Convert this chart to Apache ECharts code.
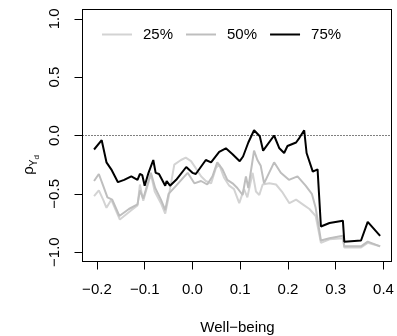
<!DOCTYPE html>
<html><head><meta charset="utf-8">
<script src="https://cdn.jsdelivr.net/npm/echarts@6/dist/echarts.min.js"></script>
<style>html,body{margin:0;padding:0;background:#fff}#c{width:397px;height:336px}</style>
</head><body><div id="c"></div>
<script>
// Series names
const seriesNames = ['25%', '50%', '75%'];
// Tick values
const xTicks = [-0.2, -0.1, 0.0, 0.1, 0.2, 0.3, 0.4];
const yTicks = [-1.0, -0.5, 0.0, 0.5, 1.0];

// 25% quantile
const x25 = [-0.206,-0.196,-0.187,-0.180,-0.170,-0.152,-0.128,-0.115,-0.110,-0.103,-0.087,-0.079,-0.066,-0.057,-0.050,-0.038,-0.024,-0.014,-0.003,0.007,0.018,0.028,0.039,0.049,0.056,0.066,0.077,0.087,0.098,0.108,0.115,0.126,0.133,0.140,0.147,0.161,0.175,0.189,0.203,0.217,0.231,0.245,0.258,0.269,0.287,0.315,0.318,0.353,0.367,0.393];
const y25 = [-0.52,-0.47,-0.55,-0.62,-0.55,-0.72,-0.64,-0.60,-0.42,-0.56,-0.33,-0.48,-0.58,-0.67,-0.53,-0.25,-0.21,-0.19,-0.22,-0.28,-0.35,-0.39,-0.41,-0.28,-0.25,-0.36,-0.43,-0.46,-0.58,-0.46,-0.53,-0.32,-0.48,-0.51,-0.42,-0.41,-0.42,-0.49,-0.58,-0.55,-0.59,-0.63,-0.69,-0.92,-0.89,-0.88,-0.96,-0.96,-0.92,-0.95];

// 50% quantile
const x50 = [-0.206,-0.196,-0.187,-0.178,-0.168,-0.153,-0.133,-0.115,-0.110,-0.103,-0.087,-0.078,-0.066,-0.057,-0.050,-0.034,-0.021,-0.010,0.004,0.018,0.031,0.042,0.052,0.063,0.073,0.084,0.094,0.105,0.112,0.117,0.129,0.136,0.143,0.150,0.171,0.185,0.202,0.220,0.237,0.250,0.258,0.269,0.287,0.315,0.318,0.353,0.367,0.393];
const y50 = [-0.39,-0.33,-0.43,-0.53,-0.55,-0.69,-0.63,-0.59,-0.47,-0.54,-0.32,-0.45,-0.55,-0.64,-0.50,-0.43,-0.37,-0.32,-0.41,-0.39,-0.42,-0.35,-0.23,-0.29,-0.38,-0.41,-0.45,-0.51,-0.35,-0.45,-0.13,-0.21,-0.26,-0.41,-0.23,-0.32,-0.38,-0.35,-0.43,-0.50,-0.62,-0.90,-0.88,-0.86,-0.95,-0.95,-0.91,-0.95];

// 75% quantile
const x75 = [-0.206,-0.190,-0.180,-0.170,-0.156,-0.143,-0.128,-0.115,-0.110,-0.105,-0.100,-0.092,-0.082,-0.077,-0.070,-0.057,-0.054,-0.047,-0.034,-0.013,0.000,0.007,0.028,0.039,0.056,0.070,0.084,0.099,0.106,0.117,0.129,0.141,0.148,0.171,0.182,0.192,0.199,0.217,0.224,0.234,0.239,0.252,0.262,0.269,0.287,0.315,0.318,0.353,0.367,0.393];
const y75 = [-0.12,-0.04,-0.23,-0.29,-0.40,-0.38,-0.35,-0.38,-0.33,-0.34,-0.43,-0.32,-0.21,-0.32,-0.33,-0.43,-0.39,-0.43,-0.38,-0.27,-0.32,-0.33,-0.21,-0.23,-0.14,-0.11,-0.16,-0.22,-0.18,-0.06,0.045,-0.006,-0.13,0.00,-0.11,-0.15,-0.09,-0.06,-0.02,0.045,-0.15,-0.31,-0.29,-0.78,-0.75,-0.73,-0.91,-0.90,-0.74,-0.86];

const FONT = '"Liberation Sans", Arial, sans-serif';
const X_MIN = -0.2302, X_MAX = 0.4168, Y_MIN = -1.08, Y_MAX = 1.08;
const fmt = v => v.toFixed(1).replace('-', '\u2212');
const pairs = (xs, ys) => xs.map((x, i) => [x, ys[i]]);

const chart = echarts.init(document.getElementById('c'), null, {renderer: 'canvas'});
const mk = (name, xs, ys, color, extra) => Object.assign({
  name, type: 'line', data: pairs(xs, ys), symbol: 'none', showSymbol: false,
  color, lineStyle: {width: 2, color}, animation: false, silent: true
}, extra || {});
const boxAxis = (pos, min, max) => ({
  type: 'value', position: pos, min, max,
  axisLine: {show: true, onZero: false, lineStyle: {color: '#000', width: 1}},
  axisTick: {show: false}, axisLabel: {show: false}, splitLine: {show: false}
});

chart.setOption({
  animation: false,
  textStyle: {fontFamily: FONT},
  grid: {left: 82.5, top: 9.5, width: 309, height: 252, show: false},
  legend: {
    data: seriesNames, left: 97, top: 22, icon: 'rect', itemWidth: 30, itemHeight: 2, itemGap: 13,
    textStyle: {fontSize: 15, color: '#000', fontFamily: FONT, padding: [0, 0, 0, 6]}
  },
  xAxis: [{
    type: 'value', position: 'bottom', min: X_MIN, max: X_MAX,
    axisLine: {show: true, onZero: false, lineStyle: {color: '#000', width: 1}}, splitLine: {show: false},
    axisTick: {show: true, customValues: xTicks, length: 8, inside: false, lineStyle: {color: '#000', width: 1}},
    axisLabel: {show: true, customValues: xTicks, formatter: fmt, fontSize: 15, color: '#000', fontFamily: FONT, margin: 21}
  }, boxAxis('top', X_MIN, X_MAX)],
  yAxis: [{
    type: 'value', position: 'left', min: Y_MIN, max: Y_MAX,
    axisLine: {show: true, onZero: false, lineStyle: {color: '#000', width: 1}}, splitLine: {show: false},
    axisTick: {show: true, customValues: yTicks, length: 8, lineStyle: {color: '#000', width: 1}},
    axisLabel: {show: true, customValues: yTicks, formatter: fmt, rotate: 90, fontSize: 15, color: '#000', fontFamily: FONT, margin: 20}
  }, boxAxis('right', Y_MIN, Y_MAX)],
  graphic: [
    {type: 'text', x: 237.5, y: 328, style: {text: 'Well\u2212being', font: '15px ' + FONT, fill: '#000', align: 'center', verticalAlign: 'middle'}},
    {type: 'text', x: 31, y: 165, rotation: Math.PI / 2,
     style: {text: '{a|\u03C1}{b|Y}{c|d}', align: 'center', verticalAlign: 'middle',
       rich: {
         a: {fontSize: 15, fontFamily: FONT, fill: '#000', lineHeight: 20, verticalAlign: 'top'},
         b: {fontSize: 10, fontFamily: FONT, fill: '#000', lineHeight: 10, verticalAlign: 'bottom', padding: [0, 0, 2, 0]},
         c: {fontSize: 8, fontFamily: FONT, fill: '#000', lineHeight: 8, verticalAlign: 'bottom'}
       }}}
  ],
  series: [
    mk('25%', x25, y25, '#d3d3d3'),
    mk('50%', x50, y50, '#bebebe'),
    mk('75%', x75, y75, '#000000', {
      markLine: {silent: true, symbol: ['none', 'none'], label: {show: false}, animation: false,
        lineStyle: {type: [1, 2], color: '#000', width: 1}, data: [{yAxis: 0}]}
    })
  ]
});
</script></body></html>
